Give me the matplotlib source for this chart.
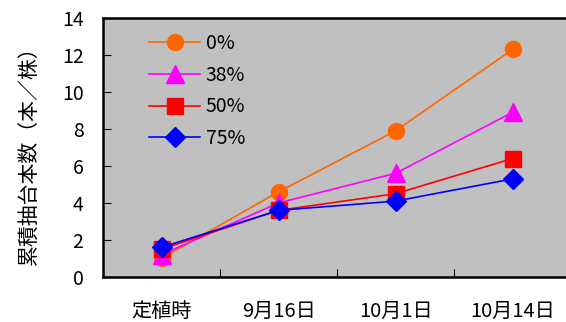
import matplotlib.pyplot as plt
import numpy as np

plt.rcParams['font.family'] = ['Noto Sans CJK JP', 'DejaVu Sans']

# categories and series values
dates = ['定植時', '9月16日', '10月1日', '10月14日']
s0 = [1.0, 4.6, 7.9, 12.3]
s38 = [1.2, 4.0, 5.6, 8.9]
s50 = [1.5, 3.6, 4.5, 6.4]
s75 = [1.6, 3.6, 4.1, 5.3]
names = ['0%', '38%', '50%', '75%']

fig = plt.figure(figsize=(5.66, 3.22), dpi=100)
ax = fig.add_axes([0.182, 0.140, 0.827, 0.804])
ax.set_facecolor('#C0C0C0')

x = np.arange(len(dates))
ax.plot(x, s0, color='#FF6600', marker='o', ms=11.5, lw=1.2, label=names[0])
ax.plot(x, s38, color='#FF00FF', marker='^', ms=12.5, lw=1.2, label=names[1])
ax.plot(x, s50, color='#FF0000', marker='s', ms=11, lw=1.2, label=names[2])
ax.plot(x, s75, color='#0000FF', marker='D', ms=10.5, lw=1.2, label=names[3])

ax.set_xlim(-0.5, 3.5)
ax.set_ylim(0, 14)
ax.set_yticks(range(0, 15, 2))
ax.tick_params(axis='y', direction='in', length=6, labelsize=14, pad=14)

# tick marks between categories, labels at category centres
ax.set_xticks([0.5, 1.5, 2.5])
ax.set_xticklabels([])
ax.set_xticks(x, minor=True)
ax.set_xticklabels(dates, minor=True, fontsize=14.5)
ax.tick_params(axis='x', which='major', direction='in', length=6)
ax.tick_params(axis='x', which='minor', length=0, pad=17)

for sp in ax.spines.values():
    sp.set_linewidth(1.8)

ax.set_ylabel('累積抽台本数（本／株）', fontsize=15)
ax.yaxis.set_label_coords(-0.135, 0.49)

ax.legend(loc='upper left', bbox_to_anchor=(0.07, 0.995), frameon=False,
          fontsize=14, handlelength=2.6, handletextpad=0.3, labelspacing=0.55,
          borderaxespad=0.3)

fig.savefig('out.png', dpi=100)
